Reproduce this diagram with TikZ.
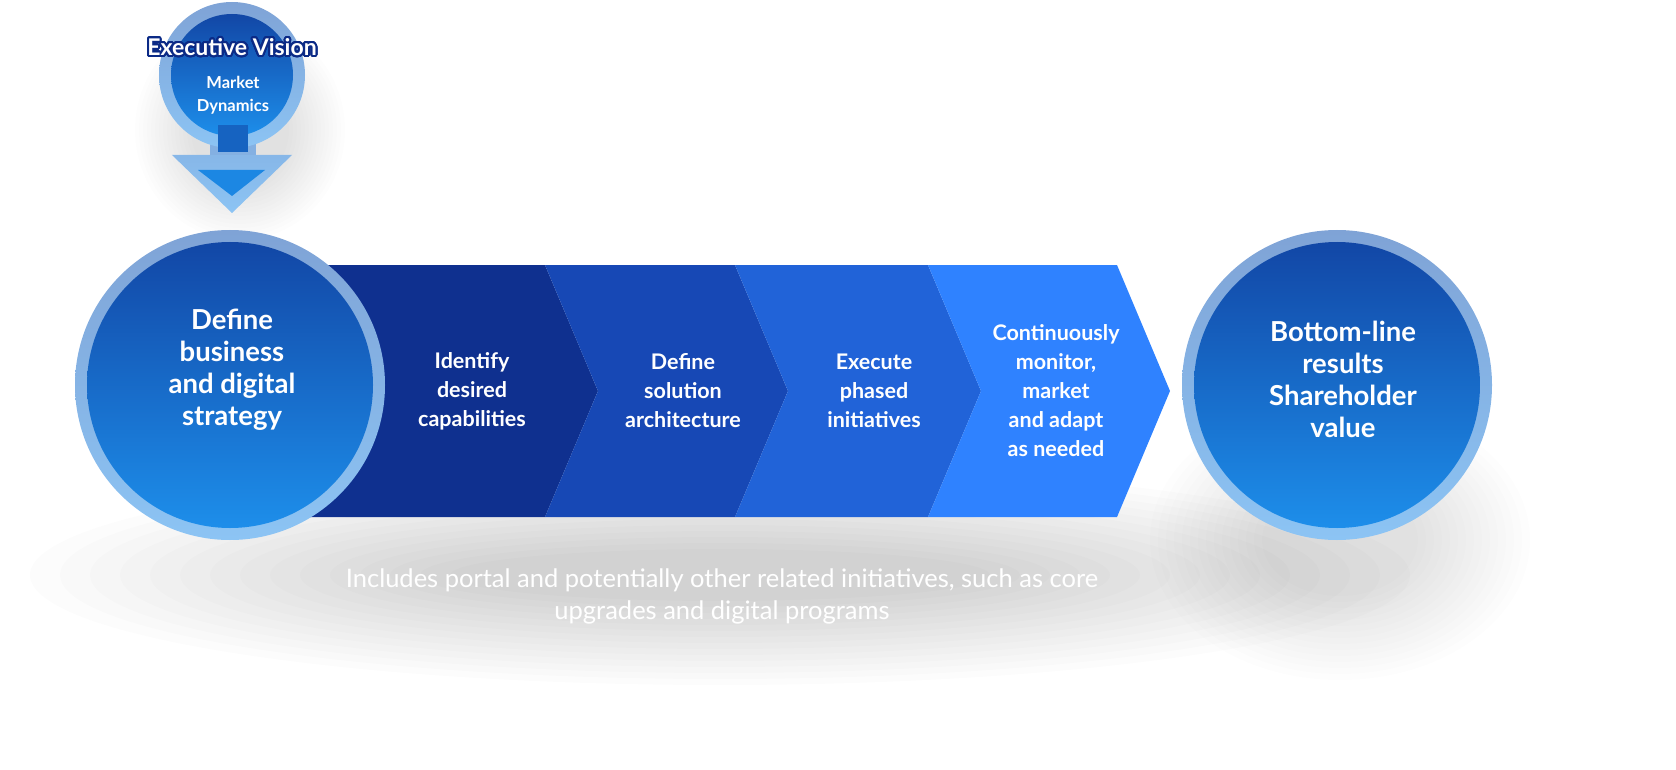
\documentclass[tikz,border=0pt]{standalone}
\usepackage{fontspec}
\setmainfont{Lato}
\usepackage[copies]{contour}
\contournumber{32}
\definecolor{navy}{HTML}{0B2A86}
\definecolor{ringA}{HTML}{7FA3D6}
\definecolor{ringB}{HTML}{8CC4F4}
\definecolor{inA}{HTML}{1247A6}
\definecolor{inB}{HTML}{1D8EEA}
\definecolor{c1}{HTML}{0F308F}
\definecolor{c2}{HTML}{1748B5}
\definecolor{c3}{HTML}{2163D8}
\definecolor{c4}{HTML}{2F82FF}
\tikzset{
 wt/.style={text=white,font=\bfseries,align=center},
 ring/.style={circle,top color=ringA,bottom color=ringB,draw=none},
 inner/.style={circle,top color=inA,bottom color=inB,draw=none},
 sh/.style={fill=black,opacity=0.011},
 shl/.style={fill=black,opacity=0.007},
}
\begin{document}
\begin{tikzpicture}[x=1pt,y=-1pt]
\useasboundingbox (0,0) rectangle (1676,770);
\clip (0,0) rectangle (1676,770);
% shadows
\foreach \k in {0,...,14}{
  \fill[sh] (720,575) ellipse [x radius={690-\k*30},y radius={110-\k*6}];
  \fill[shl] (1340,540) ellipse [x radius={190-\k*8},y radius={140-\k*6}];
  \fill[shl] (240,130) ellipse [x radius={105-\k*4},y radius={110-\k*4}];
}
% chevrons
\foreach \xs/\xe/\c [count=\i] in {300/545/c1,545/735/c2,735/928/c3,928/1117/c4}{
  \fill[\c] (\xs,265) -- (\xe,265) -- (\xe+53,391) -- (\xe,517) -- (\xs,517) -- (\xs+53,391) -- cycle;
}
\tikzset{mt/.style={wt,font=\bfseries\fontsize{21.5}{29}\selectfont}}
\node[mt] (s1) at (472,391) {Identify\\desired\\capabilities};
\node[mt] (s2) at (683,391) {Define\\solution\\architecture};
\node[mt] (s3) at (874,391) {Execute\\phased\\initiatives};
\node[mt] (s4) at (1056,391) {Continuously\\monitor,\\market\\and adapt\\as needed};
% left circle
\node[ring,minimum size=310] (L) at (230,385) {};
\node[inner,minimum size=286] (Li) at (230,385) {};
\node[wt,font=\bfseries\fontsize{27.5}{32}\selectfont] (Lt) at (232,370) {Define\\business\\and digital\\strategy};
% right circle
\node[ring,minimum size=310] (R) at (1337,385) {};
\node[inner,minimum size=286] (Ri) at (1337,385) {};
\node[wt,font=\bfseries\fontsize{27.5}{32}\selectfont] (Rt) at (1343,379) {Bottom-line\\results\\Shareholder\\value};
% top circle with arrow
\fill[ringA!60!ringB] (210,130) rectangle (256,160);
\path[top color=ringA!40!ringB,bottom color=ringB] (172,155) -- (292,155) -- (232,213) -- cycle;
\fill[inB!90!inA] (198,170) -- (265,170) -- (232,196) -- cycle;
\node[ring,minimum size=146] (T) at (232,75) {};
\node[inner,minimum size=122] (Ti) at (232,75) {};
\fill[inA!60!inB] (218,125) rectangle (248,152);
\node[wt,font=\bfseries\fontsize{16.5}{23}\selectfont] (Tt) at (233,95) {Market\\Dynamics};
\node[wt,font=\bfseries\fontsize{23}{26}\selectfont] (EV) at (232,48) {\contourlength{2pt}\contour{navy}{Executive Vision}};
% bottom text
\node[text=white,align=center,font=\fontsize{25.5}{32}\selectfont] (note) at (722,596) {Includes portal and potentially other related initiatives, such as core\\upgrades and digital programs};
\end{tikzpicture}
\end{document}
